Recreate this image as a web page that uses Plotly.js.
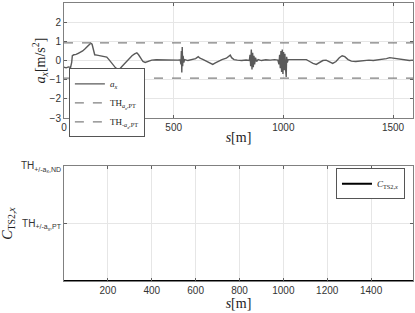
<!DOCTYPE html>
<html><head><meta charset="utf-8">
<script src="https://cdn.plot.ly/plotly-3.0.1.min.js"></script>
<style>html,body{margin:0;padding:0;background:#fff}#c{width:415px;height:313px}</style>
</head><body><div id="c"></div>
<script>
const sPos = [0,10,20,30,35,38,45,55,65,75,85,95,105,115,122,128,134,140,150,165,180,195,205,215,225,235,245,255,265,280,295,310,322,332,340,350,360,370,385,400,420,440,460,480,500,520,530,533,535,537,539,541,543,546,550,565,580,600,612,620,635,650,665,678,690,705,720,740,752,758,764,775,790,810,830,845,848,851,854,857,860,863,866,869,873,878,885,900,920,940,960,975,980,983,986,989,992,995,998,1001,1004,1007,1010,1013,1015,1018,1022,1035,1060,1085,1105,1120,1135,1150,1165,1180,1195,1210,1225,1240,1255,1268,1280,1295,1310,1330,1350,1370,1390,1410,1430,1450,1470,1485,1500,1520,1540,1560,1575,1591];
const axVals = [-0.35,-0.38,-0.33,-0.36,-0.1,0.25,0.3,0.32,0.38,0.42,0.5,0.6,0.7,0.82,0.9,0.85,0.55,0.3,0.28,0.25,0.22,0.18,0.05,-0.1,-0.25,-0.38,-0.45,-0.43,-0.3,-0.1,0.1,0.25,0.35,0.4,0.3,0.1,-0.05,-0.1,-0.02,0.02,0.04,0.03,0.05,0.04,0.03,0.02,0.04,-0.2,0.5,-0.62,0.7,-0.3,0.25,-0.1,0.05,0.0,0.05,0.1,0.2,0.12,0.05,-0.05,-0.15,-0.2,-0.12,-0.02,0.05,0.12,0.2,0.28,0.15,0.05,0.02,0.0,0.03,0.0,0.3,-0.3,0.57,-0.47,0.4,-0.35,0.25,-0.2,0.15,-0.05,0.05,0.0,0.04,0.02,0.05,0.02,-0.2,0.3,-0.4,0.5,-0.6,0.57,-0.7,0.45,-0.5,0.35,-0.4,-0.86,0.2,-0.1,0.05,0.05,0.08,0.07,0.05,-0.05,-0.15,-0.2,-0.12,0.0,0.02,-0.08,-0.15,-0.05,0.15,0.25,0.2,0.05,-0.03,-0.05,-0.02,0.0,0.02,0.0,0.03,0.05,0.1,0.15,0.12,0.08,0.05,0.03,0.0,0.02];
const thPT = 0.92;
const sRange = [0, 1591];
const topTicks = [0, 500, 1000, 1500];
const bottomTicks = [200, 400, 600, 800, 1000, 1200, 1400];
const cLevels = [1, 2];
const cLabels = ['TH<sub>+/-a<sub>x</sub>,PT</sub>', 'TH<sub>+/-a<sub>x</sub>,ND</sub>'];
const cVals = [0, 0];

const serif = 'Liberation Serif, DejaVu Serif, serif';
const sans = 'Liberation Sans, Arial, sans-serif';
const axisCommon = {showline:true, mirror:'ticks', linecolor:'#808080', linewidth:1, ticks:'inside', ticklen:3, tickcolor:'#606060', showgrid:true, gridcolor:'#e6e6e6', zeroline:false, tickfont:{family:sans, size:10, color:'#333'}};

const traces = [
  {x:sPos, y:axVals, mode:'lines', line:{color:'#5a5a5a', width:1.4}, name:'<i>a<sub>x</sub></i>', xaxis:'x', yaxis:'y', legend:'legend'},
  {x:sRange, y:[thPT, thPT], mode:'lines', line:{color:'#808080', width:1.2, dash:'dash'}, name:'TH<sub><i>a<sub>x</sub></i>,PT</sub>', xaxis:'x', yaxis:'y', legend:'legend'},
  {x:sRange, y:[-thPT, -thPT], mode:'lines', line:{color:'#808080', width:1.2, dash:'dash'}, name:'TH<sub>-<i>a<sub>x</sub></i>,PT</sub>', xaxis:'x', yaxis:'y', legend:'legend'},
  {x:sRange, y:cVals, mode:'lines', line:{color:'#000', width:2}, name:'<i>C</i><sub>TS2,<i>x</i></sub>', xaxis:'x2', yaxis:'y2', legend:'legend2'}
];

const layout = {
  width:415, height:313, margin:{l:64, r:2, t:3, b:32},
  paper_bgcolor:'#fff', plot_bgcolor:'#fff', showlegend:true,
  xaxis: Object.assign({}, axisCommon, {domain:[0,1], range:sRange, tickvals:topTicks, anchor:'y',
    title:{text:'<i>s</i>[m]', font:{family:serif, size:14, color:'#222'}, standoff:0}}),
  yaxis: Object.assign({}, axisCommon, {domain:[0.586,1], range:[-3,3], dtick:1, anchor:'x',
    title:{text:'<i>a<sub>x</sub></i>[m/s<sup>2</sup>]', font:{family:serif, size:14, color:'#222'}, standoff:0}}),
  xaxis2: Object.assign({}, axisCommon, {domain:[0,1], range:sRange, tickvals:bottomTicks, anchor:'y2',
    title:{text:'<i>s</i>[m]', font:{family:serif, size:14, color:'#222'}, standoff:0}}),
  yaxis2: Object.assign({}, axisCommon, {domain:[0,0.4137], range:[0,2], tickvals:cLevels, ticktext:cLabels, anchor:'x2',
    title:{text:'<i>C</i><sub>TS2,<i>x</i></sub>', font:{family:serif, size:14, color:'#222'}, standoff:12}}),
  legend:{x:0.014, y:0.765, xanchor:'left', yanchor:'top', bgcolor:'#fff', bordercolor:'#555', borderwidth:1, itemwidth:30, font:{family:serif, size:9, color:'#222'}, tracegroupgap:0},
  legend2:{x:0.977, y:0.406, xanchor:'right', yanchor:'top', bgcolor:'#fff', bordercolor:'#555', borderwidth:1, itemwidth:30, font:{family:serif, size:9, color:'#222'}}
};
Plotly.newPlot('c', traces, layout, {displayModeBar:false, staticPlot:true});
</script></body></html>
